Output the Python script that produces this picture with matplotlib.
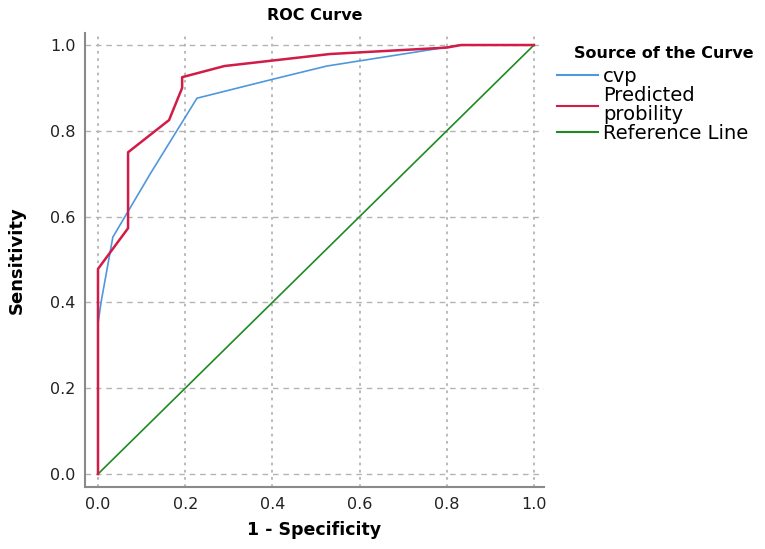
import matplotlib.pyplot as plt
from matplotlib.lines import Line2D

cvp_fpr = [0, 0, 0.007, 0.034, 0.12, 0.227, 0.40, 0.525, 0.60, 0.80, 0.83, 1.0]
cvp_tpr = [0, 0.35, 0.40, 0.552, 0.70, 0.876, 0.92, 0.951, 0.963, 0.995, 1.0, 1.0]

pred_fpr = [0, 0, 0.069, 0.069, 0.163, 0.193, 0.193, 0.29, 0.532, 0.80, 0.833, 1.0]
pred_tpr = [0, 0.478, 0.573, 0.75, 0.825, 0.90, 0.925, 0.951, 0.979, 0.994, 1.0, 1.0]

ref_fpr = [0, 1]
ref_tpr = [0, 1]

ticks = [0.0, 0.2, 0.4, 0.6, 0.8, 1.0]
tick_labels = ["0.0", "0.2", "0.4", "0.6", "0.8", "1.0"]

legend_labels = ["cvp", "Predicted\nprobility", "Reference Line"]

color_cvp = "#5097dc"
color_pred = "#d01c46"
color_ref = "#1f8a24"
color_grid = "#b4b4b4"

plt.rcParams["font.family"] = ["DejaVu Sans"]

fig = plt.figure(figsize=(7.65, 5.49), dpi=100)
ax = fig.add_axes([85 / 765, 1 - 487 / 549, (544 - 85) / 765, (487 - 33) / 549])

ax.set_xlim(-0.0298, 1.023)
ax.set_ylim(-0.0303, 1.028)

# Rejilla: horizontales con guiones, verticales punteadas
for t in ticks:
    ax.axhline(t, color=color_grid, lw=1.0, dashes=(4, 3.5), zorder=1)
    ax.axvline(t, color=color_grid, lw=1.3, dashes=(1.5, 2.5), zorder=1)

ax.plot(ref_fpr, ref_tpr, color=color_ref, lw=1.2, zorder=2)
ax.plot(cvp_fpr, cvp_tpr, color=color_cvp, lw=1.2, zorder=3)
ax.plot(pred_fpr, pred_tpr, color=color_pred, lw=1.8, zorder=4)

ax.set_xticks(ticks)
ax.set_xticklabels(tick_labels)
ax.set_yticks(ticks)
ax.set_yticklabels(tick_labels)
ax.tick_params(length=0, labelsize=11.5, pad=7, colors="#222222")

for s in ["top", "right"]:
    ax.spines[s].set_visible(False)
for s in ["left", "bottom"]:
    ax.spines[s].set_color("#8a8a8a")
    ax.spines[s].set_linewidth(1.5)

ax.set_title("ROC Curve", fontsize=11.5, fontweight="bold", pad=9)
ax.set_xlabel("1 - Specificity", fontsize=12.5, fontweight="bold", labelpad=7)
ax.set_ylabel("Sensitivity", fontsize=13, fontweight="bold", labelpad=17)

# Leyenda fuera del grafico
fig.text(664 / 765, 1 - 53 / 549, "Source of the Curve", fontsize=11.5, fontweight="bold",
         ha="center", va="center")
handles = [
    Line2D([], [], color=color_cvp, lw=1.5),
    Line2D([], [], color=color_pred, lw=1.5),
    Line2D([], [], color=color_ref, lw=1.5),
]
leg = fig.legend(handles, legend_labels, loc="upper left", bbox_to_anchor=(557 / 765, 1 - 67 / 549),
                 frameon=False, fontsize=14,
                 handlelength=2.1, handletextpad=0.28, labelspacing=0.0, borderpad=0,
                 borderaxespad=0)
for txt in leg.get_texts():
    txt.set_linespacing(1.0)

fig.savefig("out.png", dpi=100)
